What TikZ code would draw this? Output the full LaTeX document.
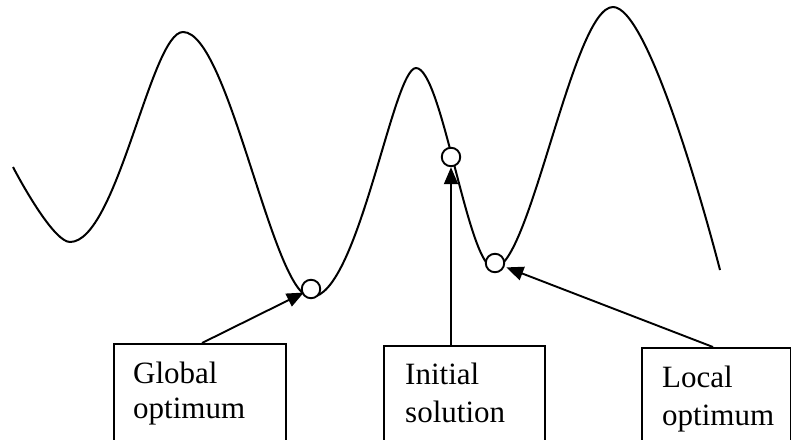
\documentclass[tikz,border=0pt]{standalone}
\usepackage{fontspec}
\setmainfont{Liberation Serif}
\usetikzlibrary{arrows.meta}
\begin{document}
\begin{tikzpicture}[x=1pt,y=-1pt,
  curve/.style={line width=2pt, line join=round},
  dot/.style={circle, draw, fill=white, line width=1.9pt, minimum size=18.5pt, inner sep=0pt},
  labelbox/.style={draw, line width=1.9pt, anchor=north west, inner sep=0pt},
  lbl/.style={anchor=base west, inner sep=0pt, font=\fontsize{31}{35}\selectfont},
  pointer/.style={line width=1.9pt, -{Triangle[length=17pt,width=14pt]}}]
\useasboundingbox (0,0) rectangle (791,439);
\clip (0,0) rectangle (791,439);
% landscape curve
\draw[curve] (13,167) .. controls (25,190) and (55,242) .. (70,242)
  .. controls (117,242) and (151,32) .. (183,32)
  .. controls (229,32) and (273,297) .. (311,297)
  .. controls (358,297) and (393,68) .. (416,68)
  .. controls (442,68) and (468,268) .. (494,268)
  .. controls (530,268) and (573,7) .. (613,7)
  .. controls (648,7) and (705,212) .. (720,270);
% solution markers
\node[dot] (gc) at (311,289) {};
\node[dot] (ic) at (451,157) {};
\node[dot] (lc) at (495,263) {};
% label boxes
\node[labelbox, minimum width=172pt, minimum height=120pt] (gb) at (113,343) {};
\node[labelbox, minimum width=161pt, minimum height=120pt] (ib) at (383,345) {};
\node[labelbox, minimum width=149pt, minimum height=120pt] (lb) at (641,347) {};
\node[lbl] (g1) at (133,383) {Global};
\node[lbl] (g2) at (133,418) {optimum};
\node[lbl] (i1) at (405,384) {Initial};
\node[lbl] (i2) at (405,422) {solution};
\node[lbl] (l1) at (662,387) {Local};
\node[lbl] (l2) at (662,425) {optimum};
% arrows
\coordinate (gs) at (202,343);
\coordinate (is) at (451,345);
\coordinate (ls) at (713,347);
\draw[pointer, shorten >=8pt] (gs) -- (gc.center);
\draw[pointer] (is) -- (ic.south);
\draw[pointer, shorten >=2pt] (ls) -- (lc);
\end{tikzpicture}
\end{document}
